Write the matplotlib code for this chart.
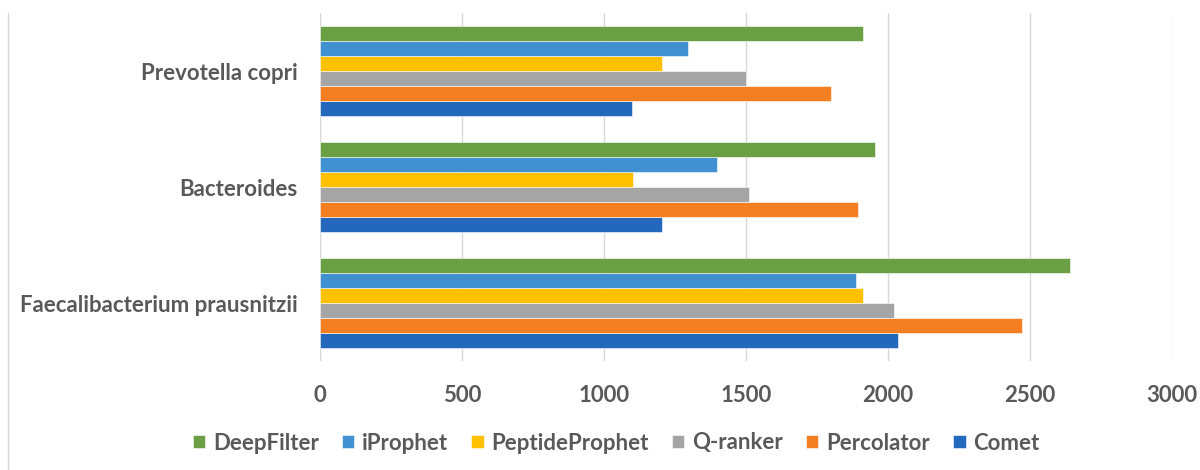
import matplotlib
matplotlib.use("Agg")
import matplotlib.pyplot as plt
import numpy as np

categories = ["Faecalibacterium prausnitzii", "Bacteroides", "Prevotella copri"]
series_names = ["Comet", "Percolator", "Q-ranker", "PeptideProphet", "iProphet", "DeepFilter"]
comet = [2036, 1205, 1100]
percolator = [2471, 1894, 1801]
qranker = [2022, 1512, 1500]
peptideprophet = [1911, 1102, 1203]
iprophet = [1888, 1399, 1296]
deepfilter = [2641, 1953, 1913]
colors = ["#2468BE", "#F47E22", "#A5A5A5", "#FFC000", "#4190D0", "#6A9F44"]
xticks = [0, 500, 1000, 1500, 2000, 2500, 3000]

values = [comet, percolator, qranker, peptideprophet, iprophet, deepfilter]

plt.rcParams['font.family'] = ['Lato', 'DejaVu Sans']
text_color = "#595959"
fs = 16

fig = plt.figure(figsize=(12, 4.7), dpi=100)
ax = fig.add_axes([320/1200, 1-361/470, (1172-320)/1200, (361-13)/470])

n = len(series_names)
group = 90/116
h = group / n
y = np.arange(len(categories))
handles = []
for i, (name, vals, c) in enumerate(zip(series_names, values, colors)):
    off = -group/2 + h*(i + 0.5)
    b = ax.barh(y + off, vals, height=h, color=c, label=name, zorder=3,
                edgecolor="white", linewidth=0.4)
    handles.append(b)

ax.set_xlim(0, 3000)
ax.set_ylim(-0.5, len(categories) - 0.5)
ax.set_xticks(xticks)
ax.set_xticklabels([str(t) for t in xticks])
ax.set_yticks(y)
ax.set_yticklabels(categories)
ax.grid(axis='x', color="#D9D9D9", linewidth=1, zorder=0)
for s in ax.spines.values():
    s.set_visible(False)
ax.tick_params(axis='both', length=0, colors=text_color, labelsize=fs)
ax.tick_params(axis='x', pad=17)
ax.tick_params(axis='y', pad=16)
for lab in ax.get_xticklabels() + ax.get_yticklabels():
    lab.set_fontweight('bold')
    lab.set_color(text_color)

leg = fig.legend(handles[::-1], series_names[::-1], loc='center', ncol=6,
                 bbox_to_anchor=(0.5135, 1-443/470), frameon=False,
                 prop={'weight': 'bold', 'size': fs}, handlelength=0.55,
                 handleheight=0.55, handletextpad=0.35, columnspacing=1.05)
for t in leg.get_texts():
    t.set_color(text_color)

fig.add_artist(plt.Line2D([8/1200, 8/1200], [0, 1-13/470], color="#D9D9D9", linewidth=1))

fig.savefig("out.png", dpi=100)
